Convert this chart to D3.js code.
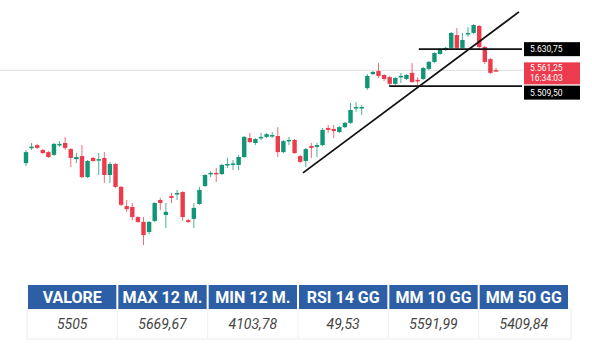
<!DOCTYPE html>
<html><head><meta charset="utf-8">
<script src="https://cdn.jsdelivr.net/npm/d3@7"></script>
<style>html,body{margin:0;padding:0;background:#fff;}svg{display:block;}</style>
</head><body>
<svg id="chart" width="592" height="354"></svg>
<script>
// Candles: [open, high, low, close]
const opens  = [5257,5308,5316,5300,5293,5284,5316,5323,5303,5270,5280,5211,5274,5267,5274,5218,5254,5179,5116,5113,5080,5064,5031,5067,5136,5087,5149,5156,5162,5070,5074,5123,5182,5223,5225,5221,5252,5252,5251,5277,5339,5323,5341,5343,5348,5346,5293,5331,5333,5280,5264,5313,5310,5316,5372,5369,5359,5375,5389,5439,5439,5503,5549,5559,5546,5539,5517,5541,5533,5553,5530,5533,5566,5589,5615,5628,5635,5677,5635,5682,5684,5707,5638,5598,5562];
const highs  = [5300,5323,5320,5303,5297,5323,5329,5343,5306,5290,5316,5267,5277,5290,5293,5261,5257,5182,5136,5126,5083,5080,5067,5129,5143,5126,5159,5169,5165,5074,5126,5179,5221,5231,5241,5254,5274,5267,5284,5346,5356,5339,5356,5356,5359,5375,5333,5343,5336,5284,5307,5323,5323,5372,5382,5382,5379,5392,5454,5457,5448,5549,5559,5585,5549,5543,5539,5553,5549,5585,5539,5572,5592,5621,5635,5638,5687,5700,5684,5703,5713,5710,5641,5602,5569];
const lows   = [5247,5300,5303,5287,5274,5280,5310,5300,5244,5257,5208,5208,5261,5218,5192,5192,5175,5116,5097,5070,5061,4988,5024,5064,5103,5044,5126,5136,5067,5061,5044,5120,5179,5211,5195,5218,5241,5234,5234,5274,5323,5316,5333,5339,5339,5277,5290,5316,5287,5257,5244,5274,5277,5313,5356,5339,5356,5372,5385,5425,5415,5497,5546,5536,5526,5513,5513,5520,5530,5520,5513,5530,5562,5585,5612,5625,5631,5631,5631,5671,5680,5628,5582,5549,5556];
const closes = [5293,5311,5307,5290,5277,5320,5320,5307,5274,5277,5211,5264,5264,5270,5218,5254,5179,5120,5106,5080,5064,5021,5064,5126,5126,5097,5143,5159,5080,5064,5110,5169,5218,5225,5221,5251,5254,5256,5277,5343,5326,5336,5343,5352,5349,5293,5329,5333,5290,5261,5303,5307,5316,5366,5366,5362,5375,5389,5431,5441,5441,5543,5556,5543,5533,5517,5536,5543,5546,5523,5526,5569,5589,5618,5631,5635,5684,5635,5661,5684,5710,5638,5589,5553,5561.25];

const lastPrice = 5561.25;
const lastTime = "16:34:03";
const resistance = 5630.75;
const support = 5509.50;
const resistanceStart = 70.2;   // candle index where drawn line starts
const supportStart = 64.9;
const trendPoints = [[49.5, 5225], [88.1, 5753]];

const tableHeaders = ["VALORE", "MAX 12 M.", "MIN 12 M.", "RSI 14 GG", "MM 10 GG", "MM 50 GG"];
const tableValues  = ["5505", "5669,67", "4103,78", "49,53", "5591,99", "5409,84"];

const fmtIt = v => {
  const s = v.toFixed(2).split(".");
  return s[0].replace(/\B(?=(\d{3})+(?!\d))/g, ".") + "," + s[1];
};

const svg = d3.select("#chart");
const GREEN = "#109575", RED = "#ec3b4c";

const x = d3.scaleLinear().domain([0, opens.length - 1]).range([26, 496]);
const y = d3.scaleLinear().domain([4939.2, 5792]).range([260, 0]);
const labelX = 522;

const candles = opens.map((o, i) => ({i, o, h: highs[i], l: lows[i], c: closes[i]}));

// last price faint line
svg.append("line").attr("x1", 0).attr("x2", labelX)
  .attr("y1", y(lastPrice)).attr("y2", y(lastPrice))
  .attr("stroke", "#dcdcdc").attr("stroke-width", 1);

const g = svg.append("g");
g.selectAll("line.wick").data(candles).join("line").attr("class", "wick")
  .attr("x1", d => x(d.i)).attr("x2", d => x(d.i))
  .attr("y1", d => y(d.h)).attr("y2", d => y(d.l))
  .attr("stroke", d => d.c >= d.o ? GREEN : RED).attr("stroke-width", 1).attr("opacity", 0.75);
g.selectAll("rect.body").data(candles).join("rect").attr("class", "body")
  .attr("x", d => x(d.i) - 2.2).attr("width", 4.4)
  .attr("y", d => y(Math.max(d.o, d.c)))
  .attr("height", d => Math.max(1.5, Math.abs(y(d.o) - y(d.c))))
  .attr("fill", d => d.c >= d.o ? GREEN : RED);

// horizontal levels
svg.append("line").attr("x1", x(resistanceStart)).attr("x2", labelX)
  .attr("y1", y(resistance)).attr("y2", y(resistance)).attr("stroke", "#111").attr("stroke-width", 1.6);
svg.append("line").attr("x1", x(supportStart)).attr("x2", labelX)
  .attr("y1", y(support)).attr("y2", y(support)).attr("stroke", "#111").attr("stroke-width", 1.6);

// trend line
svg.append("line")
  .attr("x1", x(trendPoints[0][0])).attr("y1", y(trendPoints[0][1]))
  .attr("x2", x(trendPoints[1][0])).attr("y2", y(trendPoints[1][1]))
  .attr("stroke", "#111").attr("stroke-width", 1.8);

// price labels
const lab = svg.append("g").attr("font-family", "Roboto, 'DejaVu Sans', sans-serif").attr("font-size", 8.5).attr("fill", "#fff");
function box(yc, h, color) {
  lab.append("rect").attr("x", 524).attr("y", yc - h / 2).attr("width", 56).attr("height", h).attr("fill", color);
}
box(y(resistance), 14, "#000");
lab.append("text").attr("x", 530).attr("y", y(resistance) + 3).text(fmtIt(resistance));
box(y(lastPrice) + 3, 22, RED);
lab.append("text").attr("x", 530).attr("y", y(lastPrice) + 1).text(fmtIt(lastPrice));
lab.append("text").attr("x", 530).attr("y", y(lastPrice) + 10.5).text(lastTime);
box(y(support) + 6.5, 14, "#000");
lab.append("text").attr("x", 530).attr("y", y(support) + 9.5).text(fmtIt(support));

// table
const colX = d3.scaleBand().domain(tableHeaders).range([28, 570]);
const tY = 285, hH = 24, rH = 30;
const tg = svg.append("g");
tg.append("rect").attr("x", 27).attr("y", tY + hH).attr("width", 544).attr("height", rH)
  .attr("fill", "#fff").attr("stroke", "#ececec");
tg.selectAll("rect.h").data(tableHeaders).join("rect").attr("class", "h")
  .attr("x", d => colX(d)).attr("y", tY).attr("width", colX.bandwidth() - 2).attr("height", hH)
  .attr("fill", "#2c5fa5");
tg.selectAll("line.sep").data(tableHeaders.slice(1)).join("line").attr("class", "sep")
  .attr("x1", d => colX(d) - 1).attr("x2", d => colX(d) - 1)
  .attr("y1", tY + hH).attr("y2", tY + hH + rH).attr("stroke", "#f0f0f0");
tg.selectAll("text.h").data(tableHeaders).join("text").attr("class", "h")
  .attr("x", d => colX(d) + colX.bandwidth() / 2 - 1).attr("y", tY + hH / 2 + 5.5)
  .attr("text-anchor", "middle").attr("fill", "#fff")
  .attr("font-family", "'Liberation Sans Narrow', 'Roboto', sans-serif").attr("font-weight", "bold").attr("font-size", 16)
  .text(d => d);
tg.selectAll("text.v").data(tableValues).join("text").attr("class", "v")
  .attr("x", (d, i) => colX(tableHeaders[i]) + colX.bandwidth() / 2 - 1).attr("y", tY + hH + rH / 2 + 5)
  .attr("text-anchor", "middle").attr("fill", "#444")
  .attr("font-family", "'Liberation Sans Narrow', 'Roboto', sans-serif").attr("font-style", "italic").attr("font-size", 14)
  .text(d => d);
</script>
</body></html>
